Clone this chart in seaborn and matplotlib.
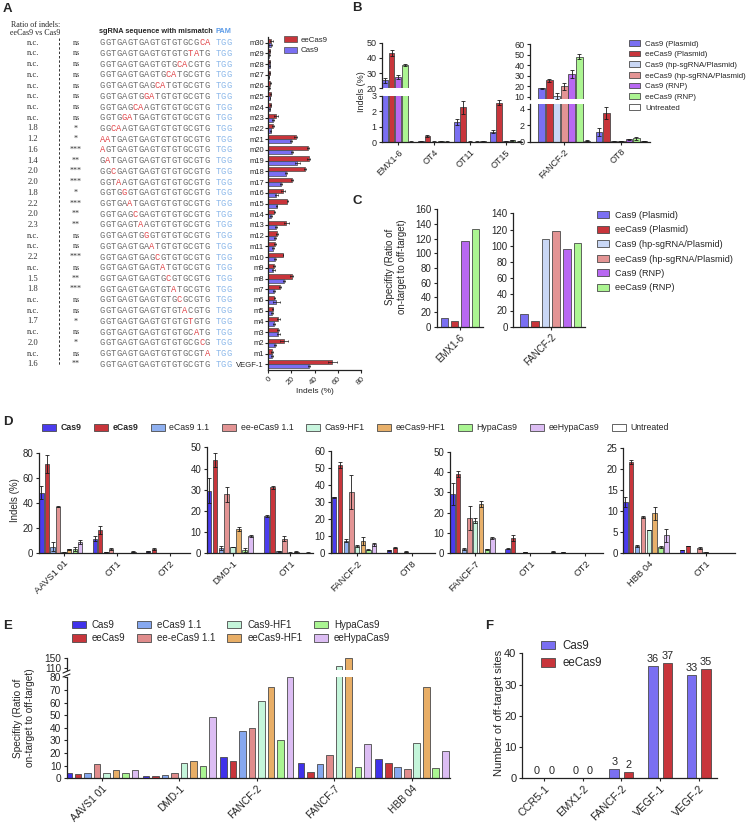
import numpy as np
import pandas as pd
import seaborn as sns
import matplotlib.pyplot as plt
import matplotlib.transforms as mtrans
from matplotlib.patches import Patch
from matplotlib.lines import Line2D

sns.set_style('ticks')
plt.rcParams['font.family'] = ['Liberation Sans', 'DejaVu Sans']
plt.rcParams['axes.linewidth'] = 0.9
plt.rcParams['axes.edgecolor'] = '#222222'

# ---------------- A: mismatch scan on VEGF-1 ----------------
a_sites = ['m%d' % i for i in range(30, 0, -1)] + ['VEGF-1']
a_seq = ['GGTGAGTGAGTGTGTGCGCA', 'GGTGAGTGAGTGTGTGTATG', 'GGTGAGTGAGTGTGCACGTG',
         'GGTGAGTGAGTGCATGCGTG', 'GGTGAGTGAGCATGTGCGTG', 'GGTGAGTGGATGTGTGCGTG',
         'GGTGAGCAAGTGTGTGCGTG', 'GGTGGATGAGTGTGTGCGTG', 'GGCAAGTGAGTGTGTGCGTG',
         'AATGAGTGAGTGTGTGCGTG', 'AGTGAGTGAGTGTGTGCGTG', 'GATGAGTGAGTGTGTGCGTG',
         'GGCGAGTGAGTGTGTGCGTG', 'GGTAAGTGAGTGTGTGCGTG', 'GGTGGGTGAGTGTGTGCGTG',
         'GGTGAATGAGTGTGTGCGTG', 'GGTGAGCGAGTGTGTGCGTG', 'GGTGAGTAAGTGTGTGCGTG',
         'GGTGAGTGGGTGTGTGCGTG', 'GGTGAGTGAATGTGTGCGTG', 'GGTGAGTGAGCGTGTGCGTG',
         'GGTGAGTGAGTATGTGCGTG', 'GGTGAGTGAGTGCGTGCGTG', 'GGTGAGTGAGTGTATGCGTG',
         'GGTGAGTGAGTGTGCGCGTG', 'GGTGAGTGAGTGTGTACGTG', 'GGTGAGTGAGTGTGTGTGTG',
         'GGTGAGTGAGTGTGTGCATG', 'GGTGAGTGAGTGTGTGCGCG', 'GGTGAGTGAGTGTGTGCGTA',
         'GGTGAGTGAGTGTGTGCGTG']
a_ratio = ['n.c.'] * 8 + ['1.8', '1.2', '1.6', '1.4', '2.0', '2.0', '1.8', '2.2', '2.0', '2.3',
                          'n.c.', 'n.c.', '2.2', 'n.c.', '1.5', '1.8', 'n.c.', 'n.c.', '1.7',
                          'n.c.', '2.0', 'n.c.', '1.6']
a_sig = ['ns'] * 8 + ['*', '*', '***', '**', '***', '***', '*', '***', '**', '**',
                      'ns', 'ns', '***', 'ns', '**', '***', 'ns', 'ns', '*', 'ns', '*', 'ns', '**']
a_ee = [2.9, 1.4, 1.4, 1.4, 2.0, 2.3, 2.3, 6.9, 4.0, 23.8, 34.4, 35.0, 31.8, 20.6, 12.9, 16.6,
        5.4, 15.8, 8.0, 6.3, 12.9, 5.4, 20.3, 10.3, 5.4, 4.0, 8.9, 8.6, 13.8, 3.4, 55.3]
a_ee_err = [1.0, 0.4, 0.5, 0.4, 0.6, 0.5, 0.6, 1.5, 0.8, 1.5, 0.5, 1.5, 1.2, 0.5, 2.0, 0.5,
            0.6, 2.0, 1.0, 0.8, 0.4, 0.8, 1.5, 0.5, 0.6, 0.5, 1.5, 0.6, 3.5, 0.6, 4.0]
a_cas = [2.3, 1.1, 1.4, 0.9, 1.1, 1.7, 1.4, 4.0, 2.3, 20.0, 21.0, 25.2, 15.5, 10.9, 7.2, 7.4,
         2.9, 6.9, 6.0, 4.3, 6.0, 4.6, 13.8, 5.2, 6.9, 3.2, 5.2, 8.9, 6.0, 3.4, 35.2]
a_cas_err = [1.5, 0.3, 0.4, 0.3, 0.3, 0.4, 0.3, 0.8, 0.5, 1.0, 0.8, 2.0, 1.2, 0.8, 1.0, 0.6,
             0.8, 1.0, 1.0, 0.6, 0.5, 1.0, 0.8, 0.5, 3.0, 0.8, 0.8, 1.2, 0.5, 0.5, 0.5]

# ---------------- B / C ----------------
b_groups = ['Cas9 (Plasmid)', 'eeCas9 (Plasmid)', 'Cas9 (hp-sgRNA/Plasmid)',
            'eeCas9 (hp-sgRNA/Plasmid)', 'Cas9 (RNP)', 'eeCas9 (RNP)', 'Untreated']
b_colors = ['#7a6ff2', '#c8353b', '#c9d7f5', '#e39494', '#b868f2', '#acf592', '#ffffff']
bl_targets = ['EMX1-6', 'OT4', 'OT11', 'OT15']
bl_groups = ['Cas9 (Plasmid)', 'eeCas9 (Plasmid)', 'Cas9 (RNP)', 'eeCas9 (RNP)', 'Untreated']
bl_vals = [[25.3, 0.06, 1.3, 0.68], [43.2, 0.42, 2.25, 2.55], [27.3, 0.05, 0.05, 0.07],
           [35.5, 0.07, 0.05, 0.12], [0.05, 0.05, 0.07, 0.05]]
bl_errs = [[1.5, 0.02, 0.17, 0.1], [2.0, 0.05, 0.4, 0.15], [1.3, 0.02, 0.02, 0.02],
           [0.6, 0.02, 0.02, 0.03], [0.02, 0.02, 0.02, 0.02]]
br_targets = ['FANCF-2', 'OT8']
br_vals = [[18.2, 1.2], [25.8, 3.5], [10.8, 0.04], [20.0, 0.08], [32.0, 0.3], [48.2, 0.4], [0.12, 0.05]]
br_errs = [[0.5, 0.5], [1.5, 0.75], [3.0, 0.02], [3.5, 0.03], [4.0, 0.08], [2.5, 0.15], [0.03, 0.02]]
c_groups_l = ['Cas9 (Plasmid)', 'eeCas9 (Plasmid)', 'Cas9 (RNP)', 'eeCas9 (RNP)']
c_vals_l = [[11.8], [7.5], [116.8], [132.7]]
c_vals_r = [[15.5], [6.5], [107.8], [118.0], [95.9], [102.9]]

# ---------------- D ----------------
d_groups = ['Cas9', 'eCas9', 'eCas9 1.1', 'ee-eCas9 1.1', 'Cas9-HF1', 'eeCas9-HF1',
            'HypaCas9', 'eeHypaCas9', 'Untreated']
d_colors = ['#4b3cee', '#c8353b', '#8fb0f0', '#e39494', '#c8f5de', '#e8b06a', '#aaf592',
            '#dcbdf3', '#ffffff']
d1_targets = ['AAVS1 01', 'OT1', 'OT2']
d1_vals = [[48.5, 11.5, 1.5], [71.5, 18.7, 3.5], [5.3, 1.0, 0.2], [37.3, 3.2, 0.5],
           [0.9, 0.3, 0.2], [3.2, 0.5, 0.2], [3.5, 0.5, 0.2], [8.8, 1.3, 0.2], [0.2, 0.4, 0.1]]
d1_errs = [[5.0, 2.0, 0.3], [7.0, 3.5, 0.8], [3.5, 0.2, 0.1], [0.5, 0.8, 0.1],
           [0.5, 0.1, 0.1], [0.4, 0.1, 0.1], [1.3, 0.1, 0.1], [1.5, 0.3, 0.1], [0.1, 0.1, 0.1]]
d2_targets = ['DMD-1', 'OT1']
d2_vals = [[29.6, 17.5], [44.0, 31.1], [2.5, 1.0], [27.8, 6.8], [3.0, 0.3], [11.6, 0.8],
           [1.7, 0.2], [8.2, 0.3], [0.1, 0.2]]
d2_errs = [[5.8, 0.5], [3.5, 0.7], [1.0, 0.2], [3.5, 1.2], [0.2, 0.1], [1.0, 0.1],
           [1.0, 0.1], [0.5, 0.1], [0.05, 0.05]]
d3_targets = ['FANCF-2', 'OT8']
d3_vals = [[32.8, 1.8], [51.8, 3.2], [7.4, 0.2], [36.2, 0.8], [4.1, 0.1], [7.2, 0.1],
           [2.2, 0.1], [5.3, 0.1], [0.2, 0.1]]
d3_errs = [[0.5, 0.3], [1.5, 0.3], [1.0, 0.1], [10.0, 0.3], [0.5, 0.05], [2.5, 0.05],
           [0.5, 0.05], [0.8, 0.05], [0.05, 0.05]]
d4_targets = ['FANCF-7', 'OT1', 'OT2']
d4_vals = [[29.0, 2.3, 0.4], [39.2, 7.4, 0.1], [2.0, 0.1, 0.1], [17.5, 0.6, 0.1],
           [16.0, 0.2, 0.1], [24.3, 0.2, 0.1], [2.0, 0.2, 0.1], [7.4, 0.2, 0.1], [0.1, 0.8, 0.1]]
d4_errs = [[5.4, 0.4, 0.1], [1.5, 1.4, 0.05], [0.5, 0.05, 0.05], [6.0, 0.2, 0.05],
           [1.2, 0.05, 0.05], [1.5, 0.05, 0.05], [0.2, 0.05, 0.05], [0.5, 0.05, 0.05],
           [0.05, 0.2, 0.05]]
d5_targets = ['HBB 04', 'OT1']
d5_vals = [[12.3, 0.8], [21.7, 1.75], [1.75, 0.1], [8.7, 1.25], [5.55, 0.2], [9.5, 0.1],
           [1.5, 0.1], [4.3, 0.1], [0.05, 0.1]]
d5_errs = [[1.2, 0.1], [0.5, 0.1], [0.3, 0.05], [0.3, 0.2], [0.1, 0.05], [1.6, 0.05],
           [0.2, 0.05], [1.6, 0.05], [0.05, 0.05]]

# ---------------- E ----------------
e_targets = ['AAVS1 01', 'DMD-1', 'FANCF-2', 'FANCF-7', 'HBB 04']
e_groups = ['Cas9', 'eeCas9', 'eCas9 1.1', 'ee-eCas9 1.1', 'Cas9-HF1', 'eeCas9-HF1',
            'HypaCas9', 'eeHypaCas9']
e_colors = ['#4032ea', '#c8353b', '#86a8f0', '#e08c8c', '#c4f5da', '#e8ae66', '#aaf592', '#dcbdf3']
e_vals = [[4.2, 1.8, 16.6, 12.1, 15.0], [3.4, 1.5, 13.7, 5.0, 12.4], [4.2, 2.5, 37.2, 11.3, 8.7],
          [11.3, 4.2, 40.0, 18.2, 7.4], [4.2, 12.5, 61.5, 120.0, 28.0],
          [6.6, 13.7, 72.0, 148.0, 72.0], [4.5, 9.8, 30.6, 9.2, 8.0], [6.6, 48.5, 79.9, 27.0, 22.0]]

# ---------------- F ----------------
f_targets = ['CCR5-1', 'EMX1-2', 'FANCF-2', 'VEGF-1', 'VEGF-2']
f_groups = ['Cas9', 'eeCas9']
f_vals = [[0, 0, 3, 36, 33], [0, 0, 2, 37, 35]]

W, H = 748, 832
fig = plt.figure(figsize=(W / 100, H / 100), dpi=100)


def box(x0, y0, x1, y1):
    return fig.add_axes([x0 / W, 1 - y1 / H, (x1 - x0) / W, (y1 - y0) / H])


def ftext(x, y, s, **kw):
    kw.setdefault('ha', 'center')
    kw.setdefault('va', 'center')
    return fig.text(x / W, 1 - y / H, s, **kw)


def draw_bars(ax, targets, groups, vals, colors, width, gap, errs=None, orient='x'):
    rows = []
    for gi, g in enumerate(groups):
        for ti, t in enumerate(targets):
            e = errs[gi][ti] if errs is not None else 0
            rows.append({'target': t, 'group': g, 'val': vals[gi][ti], 'err': e})
    df = pd.DataFrame(rows)
    if orient == 'x':
        sns.barplot(data=df, x='target', y='val', hue='group', order=targets, hue_order=groups,
                    palette=dict(zip(groups, colors)), width=width, gap=gap, saturation=1,
                    errorbar=None, edgecolor='#4a4a4a', linewidth=0.6, legend=False, ax=ax)
    else:
        sns.barplot(data=df, y='target', x='val', hue='group', order=targets, hue_order=groups,
                    orient='h', palette=dict(zip(groups, colors)), width=width, gap=gap,
                    saturation=1, errorbar=None, edgecolor='#4a4a4a', linewidth=0.5,
                    legend=False, ax=ax)
    if errs is not None:
        for p, (_, r) in zip(ax.patches, df.iterrows()):
            if orient == 'x':
                ax.errorbar(p.get_x() + p.get_width() / 2, r['val'], yerr=r['err'], fmt='none',
                            ecolor='#1a1a1a', elinewidth=0.6, capsize=1.2, capthick=0.6)
            else:
                ax.errorbar(r['val'], p.get_y() + p.get_height() / 2, xerr=r['err'], fmt='none',
                            ecolor='#1a1a1a', elinewidth=0.5, capsize=1.0, capthick=0.5)
    ax.set_xlabel('')
    ax.set_ylabel('')


def style(ax, fs=7):
    sns.despine(ax=ax)
    ax.tick_params(length=2.5, width=0.8, pad=1.5, labelsize=fs)


def rot(ax, fs=7):
    plt.setp(ax.get_xticklabels(), rotation=45, ha='right', rotation_mode='anchor', fontsize=fs)


def top_part(ax):
    sns.despine(ax=ax, bottom=True)
    ax.tick_params(axis='x', bottom=False, labelbottom=False)


# ================= A =================
axA = box(268, 37, 361, 370)
draw_bars(axA, a_sites, ['eeCas9', 'Cas9'], [a_ee, a_cas], ['#c8353b', '#7a6ff2'],
          0.78, 0.0, errs=[a_ee_err, a_cas_err], orient='y')
axA.set_xlim(0, 80)
axA.set_ylim(len(a_sites) - 0.47, -0.53)
axA.set_xticks([0, 20, 40, 60, 80])
style(axA, 5.5)
axA.tick_params(axis='y', length=2, pad=1)
rot(axA, 5.8)
axA.set_xlabel('Indels (%)', fontsize=6, labelpad=1)
fig.legend([Patch(fc='#c8353b', ec='#4a4a4a', lw=0.5), Patch(fc='#7a6ff2', ec='#4a4a4a', lw=0.5)],
           ['eeCas9', 'Cas9'], loc='upper left', bbox_to_anchor=(284 / W, 1 - 36 / H),
           frameon=False, fontsize=5.7, handlelength=1.6, handleheight=0.8, handletextpad=0.5,
           labelspacing=0.35, borderpad=0, borderaxespad=0)

tr = mtrans.blended_transform_factory(fig.transFigure, axA.transData)
ref = a_seq[-1]
for i in range(len(a_sites)):
    fig.text(33 / W, i, a_ratio[i], transform=tr, family='Liberation Serif', fontsize=6.2,
             ha='center', va='center', color='#333333')
    fig.text(76 / W, i, a_sig[i], transform=tr, family='Liberation Serif', fontsize=5.8,
             ha='center', va='center', color='#333333')
    for j, ch in enumerate(a_seq[i]):
        col = '#e2474b' if ch != ref[j] else '#6e6e6e'
        fig.text((99.5 + j * 5.53) / W, i, ch, transform=tr, family='Liberation Mono',
                 fontsize=6.3, ha='left', va='center', color=col)
    for j, ch in enumerate('TGG'):
        fig.text((215.5 + j * 5.3) / W, i, ch, transform=tr, family='Liberation Mono',
                 fontsize=6.3, ha='left', va='center', color='#8cb8ea')
fig.add_artist(Line2D([59.3 / W] * 2, [1 - 38 / H, 1 - 366 / H], transform=fig.transFigure,
                      ls=(0, (2.5, 2)), lw=0.7, color='#333333'))
ftext(11, 25, 'Ratio of indels:', ha='left', family='Liberation Serif', fontsize=5.8)
ftext(10, 33, 'eeCas9 vs Cas9', ha='left', family='Liberation Serif', fontsize=5.8)
ftext(99, 31.5, 'sgRNA sequence with mismatch', ha='left', fontsize=5.3, fontweight='bold')
ftext(216, 31.5, 'PAM', ha='left', fontsize=5.3, fontweight='bold', color='#5b9be8')

# ================= B =================
bl_colors = [dict(zip(b_groups, b_colors))[g] for g in bl_groups]
axBLt = box(382, 42.7, 522, 88.3)
axBLb = box(382, 95.7, 522, 142.3)
for ax in (axBLt, axBLb):
    draw_bars(ax, bl_targets, bl_groups, bl_vals, bl_colors, 0.92, 0.12, errs=bl_errs)
    ax.set_xlim(-0.45, 3.45)
    style(ax, 6.5)
axBLt.set_ylim(20, 50)
axBLt.set_yticks([20, 30, 40, 50])
top_part(axBLt)
axBLb.set_ylim(0, 3)
axBLb.set_yticks([0, 1, 2, 3])
rot(axBLb, 6.5)

axBRt = box(530, 44.3, 650, 99.3)
axBRb = box(530, 104, 650, 141.7)
for ax in (axBRt, axBRb):
    draw_bars(ax, br_targets, b_groups, br_vals, b_colors, 0.92, 0.12, errs=br_errs)
    ax.set_xlim(-0.6, 1.5)
    style(ax, 6.5)
axBRt.set_ylim(7.8, 60)
axBRt.set_yticks([10, 20, 30, 40, 50, 60])
top_part(axBRt)
axBRb.set_ylim(0, 4.57)
axBRb.set_yticks([0, 2, 4])
rot(axBRb, 6.5)
ftext(362, 92, 'Indels (%)', rotation=90, fontsize=6.5)

b_handles = [Patch(fc=c, ec='#4a4a4a', lw=0.6) for c in b_colors]
fig.legend(b_handles, b_groups, loc='upper left', bbox_to_anchor=(629 / W, 1 - 40 / H),
           frameon=False, fontsize=5.7, handlelength=1.45, handleheight=0.75,
           handletextpad=0.6, labelspacing=0.38, borderpad=0, borderaxespad=0)

# ================= C =================
cl_colors = [dict(zip(b_groups, b_colors))[g] for g in c_groups_l]
axCL = box(436.7, 209.3, 483, 326.7)
draw_bars(axCL, ['EMX1-6'], c_groups_l, c_vals_l, cl_colors, 0.98, 0.3)
axCL.set_xlim(-0.55, 0.55)
axCL.set_ylim(0, 160)
axCL.set_yticks(range(0, 161, 20))
style(axCL, 7)
rot(axCL, 7)
axCR = box(513.3, 213.3, 585, 326.7)
draw_bars(axCR, ['FANCF-2'], b_groups[:6], c_vals_r, b_colors[:6], 0.92, 0.3)
axCR.set_xlim(-0.54, 0.49)
axCR.set_ylim(0, 140)
axCR.set_yticks(range(0, 141, 20))
style(axCR, 7)
rot(axCR, 7)
ftext(396, 267, 'Specifity (Ratio of\non-target to off-target)', rotation=90, fontsize=7,
      linespacing=1.15)
fig.legend(b_handles[:6], b_groups[:6], loc='upper left', bbox_to_anchor=(597 / W, 1 - 211 / H),
           frameon=False, fontsize=6.6, handlelength=1.35, handleheight=0.75,
           handletextpad=0.6, labelspacing=0.6, borderpad=0, borderaxespad=0)

# ================= D =================
d_specs = [((39, 453.3, 190, 553.3), d1_targets, d1_vals, d1_errs, (0, 80), 20, (-0.46, 2.37)),
           ((206.7, 447.3, 313, 553.3), d2_targets, d2_vals, d2_errs, (0, 50), 10, (-0.45, 1.39)),
           ((330.7, 451, 435, 553.3), d3_targets, d3_vals, d3_errs, (0, 60), 10, (-0.48, 1.42)),
           ((450, 451.7, 603, 553.3), d4_targets, d4_vals, d4_errs, (0, 50), 10, (-0.46, 2.32)),
           ((623.3, 448.3, 735, 553.3), d5_targets, d5_vals, d5_errs, (0, 25), 5, (-0.45, 1.52))]
for bx, tg, vv, ee, yl, step, xl in d_specs:
    ax = box(*bx)
    draw_bars(ax, tg, d_groups, vv, d_colors, 0.93, 0.25, errs=ee)
    ax.set_ylim(*yl)
    ax.set_yticks(np.arange(yl[0], yl[1] + 0.1, step))
    ax.set_xlim(*xl)
    style(ax, 7)
    rot(ax, 6.8)
ftext(15, 500, 'Indels (%)', rotation=90, fontsize=7)
d_handles = [Patch(fc=c, ec='#4a4a4a', lw=0.6) for c in d_colors]
legD = fig.legend(d_handles, d_groups, loc='center left', bbox_to_anchor=(42 / W, 1 - 428 / H),
                  ncol=9, frameon=False, fontsize=6.3, handlelength=1.55, handleheight=0.8,
                  handletextpad=0.55, columnspacing=1.45, borderpad=0, borderaxespad=0)
for t in legD.get_texts()[:2]:
    t.set_fontweight('bold')

# ================= E =================
axEt = box(66.7, 657.7, 450, 669.6)
axEb = box(66.7, 677.3, 450, 778.3)
for ax in (axEt, axEb):
    draw_bars(ax, e_targets, e_groups, e_vals, e_colors, 0.98, 0.3)
    ax.set_xlim(-0.45, 4.49)
    style(ax, 7.3)
axEt.set_ylim(105, 150)
axEt.set_yticks([110, 150])
top_part(axEt)
axEb.set_ylim(0, 80)
axEb.set_yticks(range(0, 81, 10))
rot(axEb, 7.3)
for y0 in (671.5, 675.5):
    fig.add_artist(Line2D([63 / W, 70 / W], [1 - (y0 + 1.5) / H, 1 - (y0 - 1.5) / H],
                          transform=fig.transFigure, lw=0.8, color='#222222'))
ftext(24, 718, 'Specifity (Ratio of\non-target to off-target)', rotation=90, fontsize=7.3,
      linespacing=1.15)
e_handles = [Patch(fc=c, ec='#4a4a4a', lw=0.6) for c in e_colors]
fig.legend(e_handles, e_groups, loc='upper left', bbox_to_anchor=(72 / W, 1 - 620 / H),
           ncol=4, frameon=False, fontsize=7, handlelength=1.45, handleheight=0.75,
           handletextpad=0.6, columnspacing=1.2, labelspacing=0.35, borderpad=0, borderaxespad=0)

# ================= F =================
axF = box(522, 653.3, 717, 778.3)
draw_bars(axF, f_targets, f_groups, f_vals, ['#7a6ff2', '#c8353b'], 0.75, 0.34)
for cont in axF.containers:
    axF.bar_label(cont, fontsize=7.8, padding=1.5)
axF.set_xlim(-0.57, 4.47)
axF.set_ylim(0, 40)
axF.set_yticks(range(0, 41, 10))
style(axF, 8)
rot(axF, 7.8)
ftext(499, 713, 'Number of off-target sites', rotation=90, fontsize=8)
fig.legend([Patch(fc='#7a6ff2', ec='#4a4a4a', lw=0.6), Patch(fc='#c8353b', ec='#4a4a4a', lw=0.6)],
           f_groups, loc='upper left', bbox_to_anchor=(541 / W, 1 - 640 / H), frameon=False,
           fontsize=8.3, handlelength=1.25, handleheight=0.8, handletextpad=0.6,
           labelspacing=0.45, borderpad=0, borderaxespad=0)

# panel letters
for lab, x, y in [('A', 7.5, 9), ('B', 357, 8), ('C', 357, 201), ('D', 7.5, 422),
                  ('E', 7.5, 626), ('F', 489, 626)]:
    ftext(x, y, lab, fontsize=9.5, fontweight='bold')

fig.savefig('out.png', dpi=100, facecolor='white')
